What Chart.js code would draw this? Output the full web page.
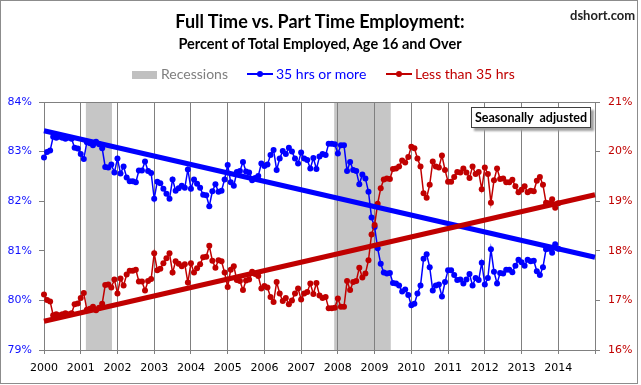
<!DOCTYPE html>
<html><head><meta charset="utf-8">
<script src="https://cdn.jsdelivr.net/npm/chart.js@4/dist/chart.umd.min.js"></script>
<style>
html,body{margin:0;padding:0;background:#fff;}
#wrap{position:relative;width:641px;height:385px;overflow:hidden;background:#fff;}
#frame{position:absolute;left:0;top:0;width:638px;height:384px;box-sizing:border-box;border:1px solid #8c8c8c;pointer-events:none;}
canvas{position:absolute;left:0;top:0;}
.t{position:absolute;white-space:nowrap;font-family:Lato,"Open Sans",sans-serif;line-height:1;}
#title{left:0;width:640px;text-align:center;top:12px;font-weight:700;font-size:18px;color:#000;}
#sub{left:0;width:640px;text-align:center;top:37px;font-weight:700;font-size:14.5px;color:#000;}
#site{left:570px;top:9px;font-weight:700;font-size:13px;color:#222;}
.lg{top:67px;font-size:14px;}
.sw{position:absolute;}
#sa{position:absolute;left:471px;top:107px;width:120px;height:21px;box-sizing:border-box;border:1px solid #404040;background:#fff;box-shadow:3px 3px 2px #a0a0a0;font-family:Lato,sans-serif;font-weight:700;font-size:12.5px;line-height:19px;text-align:center;color:#000;}
</style></head>
<body>
<div id="wrap">
<canvas id="c" width="641" height="385"></canvas>
<div class="t" id="title">Full Time vs. Part Time Employment:</div>
<div class="t" id="sub">Percent of Total Employed, Age 16 and Over</div>
<div class="t" id="site">dshort.com</div>
<div class="sw" style="left:132px;top:71px;width:25px;height:8px;background:#c0c0c0;"></div>
<div class="t lg" style="left:161px;color:#7f7f7f;">Recessions</div>
<div class="sw" style="left:247px;top:73px;width:26px;height:1.5px;background:#0000ff;"></div>
<div class="sw" style="left:257px;top:71px;width:6px;height:6px;border-radius:50%;background:#0000ff;"></div>
<div class="t lg" style="left:276px;color:#0000ff;">35 hrs or more</div>
<div class="sw" style="left:386px;top:73px;width:26px;height:1.5px;background:#c00000;"></div>
<div class="sw" style="left:396px;top:71px;width:6px;height:6px;border-radius:50%;background:#c00000;"></div>
<div class="t lg" style="left:415px;color:#c00000;">Less than 35 hrs</div>
<div id="sa">Seasonally&nbsp; adjusted</div>
<div id="frame"></div>
</div>
<script>
// Monthly data, Jan 2000 .. Jan 2014
const startYear = 2000;
const fullTime = [
 82.88, 82.99, 83.02, 83.30, 83.28, 83.30, 83.28, 83.26, 83.28, 83.26, 83.08, 83.06,
 82.95, 82.85, 83.19, 83.17, 83.13, 83.20, 83.15, 83.07, 82.69, 82.68, 82.74, 82.58,
 82.86, 82.56, 82.70, 82.48, 82.40, 82.40, 82.38, 82.62, 82.62, 82.80, 82.61, 82.57,
 82.05, 82.39, 82.36, 82.25, 82.15, 82.05, 82.44, 82.21, 82.26, 82.31, 82.27, 82.64,
 82.25, 82.44, 82.35, 82.27, 82.13, 82.12, 81.90, 82.20, 82.34, 82.19, 82.21, 82.44,
 82.73, 82.38, 82.31, 82.59, 82.61, 82.79, 82.60, 82.58, 82.42, 82.47, 82.51, 82.76,
 82.71, 82.74, 82.93, 83.03, 82.63, 82.86, 83.01, 82.95, 83.08, 83.00, 82.86, 82.76,
 82.98, 82.86, 82.83, 82.66, 82.87, 82.65, 82.90, 82.95, 82.93, 83.16, 83.16, 83.15,
 82.96, 83.13, 83.13, 82.61, 82.79, 82.63, 82.61, 82.34, 82.54, 82.46, 82.19, 81.67,
 81.48, 81.05, 80.74, 80.56, 80.54, 80.55, 80.35, 80.34, 80.30, 80.18, 80.22, 80.11,
 79.90, 79.93, 80.14, 80.30, 80.84, 80.93, 80.67, 80.20, 80.30, 80.32, 80.08, 80.37,
 80.61, 80.61, 80.51, 80.41, 80.42, 80.34, 80.42, 80.53, 80.30, 80.45, 80.41, 80.76,
 80.32, 80.45, 81.03, 80.58, 80.34, 80.55, 80.54, 80.62, 80.62, 80.57, 80.70, 80.82,
 80.77, 80.70, 80.82, 80.79, 80.80, 80.59, 80.51, 80.67, 81.03, 81.04, 80.96, 81.13,
 81.04
];
const partTime = [
 17.12, 17.01, 16.98, 16.70, 16.72, 16.70, 16.72, 16.74, 16.72, 16.74, 16.92, 16.94,
 17.05, 17.15, 16.81, 16.83, 16.87, 16.80, 16.85, 16.93, 17.31, 17.32, 17.26, 17.42,
 17.14, 17.44, 17.30, 17.52, 17.60, 17.60, 17.62, 17.38, 17.38, 17.20, 17.39, 17.43,
 17.95, 17.61, 17.64, 17.75, 17.85, 17.95, 17.56, 17.79, 17.74, 17.69, 17.73, 17.36,
 17.75, 17.56, 17.65, 17.73, 17.87, 17.88, 18.10, 17.80, 17.66, 17.81, 17.79, 17.56,
 17.27, 17.62, 17.69, 17.41, 17.39, 17.21, 17.40, 17.42, 17.58, 17.53, 17.49, 17.24,
 17.29, 17.26, 17.07, 16.97, 17.37, 17.14, 16.99, 17.05, 16.92, 17.00, 17.14, 17.24,
 17.02, 17.14, 17.17, 17.34, 17.13, 17.35, 17.10, 17.05, 17.07, 16.84, 16.84, 16.85,
 17.04, 16.87, 16.87, 17.39, 17.21, 17.37, 17.39, 17.66, 17.46, 17.54, 17.81, 18.33,
 18.52, 18.95, 19.26, 19.44, 19.46, 19.45, 19.65, 19.66, 19.70, 19.82, 19.78, 19.89,
 20.10, 20.07, 19.86, 19.70, 19.16, 19.07, 19.33, 19.80, 19.70, 19.68, 19.92, 19.63,
 19.39, 19.39, 19.49, 19.59, 19.58, 19.66, 19.58, 19.47, 19.70, 19.55, 19.59, 19.24,
 19.68, 19.55, 18.97, 19.42, 19.66, 19.45, 19.46, 19.38, 19.38, 19.43, 19.30, 19.18,
 19.23, 19.30, 19.18, 19.21, 19.20, 19.41, 19.49, 19.33, 18.97, 18.96, 19.04, 18.87,
 18.96
];
// Linear trend lines: values at 2000.0 and 2015.0
const trendYears = [2000, 2015];
const fullTimeTrend = [83.42, 80.87];
const partTimeTrend = [16.58, 19.13];
// Recessions (start, end in decimal years)
const recessionStart = [2001.14, 2007.90];
const recessionEnd   = [2001.85, 2009.44];
const yearLabels = ['2000','2001','2002','2003','2004','2005','2006','2007','2008','2009','2010','2011','2012','2013','2014'];
const leftTicks = ['79%','80%','81%','82%','83%','84%'];
const rightTicks = ['16%','17%','18%','19%','20%','21%'];

const months = fullTime.map((_, i) => startYear + i / 12);
const ftPoints = months.map((x, i) => ({x, y: fullTime[i]}));
const ptPoints = months.map((x, i) => ({x, y: partTime[i]}));
const ftTrendPts = trendYears.map((x, i) => ({x, y: fullTimeTrend[i]}));
const ptTrendPts = trendYears.map((x, i) => ({x, y: partTimeTrend[i]}));

const recessionPlugin = {
  id: 'recessions',
  beforeDraw(chart) {
    const {ctx, chartArea: a, scales: {x}} = chart;
    ctx.save();
    ctx.fillStyle = '#c6c6c6';
    for (let k = 0; k < recessionStart.length; k++) {
      const x0 = x.getPixelForValue(recessionStart[k]);
      const x1 = x.getPixelForValue(recessionEnd[k]);
      ctx.fillRect(x0, a.top, x1 - x0, a.bottom - a.top);
    }
    ctx.restore();
  }
};

const tickFont = {family: 'DejaVu Sans', size: 11};
new Chart(document.getElementById('c'), {
  type: 'line',
  data: { datasets: [
    {label: 'Less than 35 hrs trend', data: ptTrendPts, yAxisID: 'y2', borderColor: '#c00000', borderWidth: 5, pointRadius: 0, order: 0, clip: false},
    {label: '35 hrs or more trend', data: ftTrendPts, yAxisID: 'y', borderColor: '#0000ff', borderWidth: 5, pointRadius: 0, order: 1, clip: false},
    {label: 'Less than 35 hrs', data: ptPoints, yAxisID: 'y2', borderColor: '#c00000', backgroundColor: '#c00000', borderWidth: 1.5, pointRadius: 3, pointBorderWidth: 0, order: 2, clip: false, tension: 0},
    {label: '35 hrs or more', data: ftPoints, yAxisID: 'y', borderColor: '#0000ff', backgroundColor: '#0000ff', borderWidth: 1.5, pointRadius: 3, pointBorderWidth: 0, order: 3, clip: false, tension: 0}
  ]},
  options: {
    responsive: false, animation: false, devicePixelRatio: 1,
    layout: {padding: {top: 102, left: 0, right: 0, bottom: 0}},
    plugins: {legend: {display: false}, tooltip: {enabled: false}},
    scales: {
      x: {type: 'linear', min: 2000, max: 2015,
        afterFit: s => { s.height = 35; },
        ticks: {stepSize: 1, autoSkip: false, maxRotation: 0, color: '#000', font: tickFont, padding: 8,
          callback: v => yearLabels[Math.round(v) - startYear] ?? ''},
        grid: {color: '#808080', lineWidth: 1, tickLength: 4, tickColor: '#808080'},
        border: {display: true, color: '#808080'}},
      y: {position: 'left', min: 79, max: 84,
        afterFit: s => { s.width = 44; },
        ticks: {stepSize: 1, color: '#1010ff', font: tickFont, padding: 7,
          callback: v => leftTicks[Math.round(v) - 79]},
        grid: {color: c => (c.tick && c.tick.value === 84) ? '#808080' : 'rgba(0,0,0,0)', tickColor: '#808080', tickLength: 5},
        border: {display: true, color: '#808080'}},
      y2: {position: 'right', min: 16, max: 21,
        afterFit: s => { s.width = 46; },
        ticks: {stepSize: 1, color: '#c00000', font: tickFont, padding: 8,
          callback: v => rightTicks[Math.round(v) - 16]},
        grid: {drawOnChartArea: false, tickColor: '#808080', tickLength: 5},
        border: {display: true, color: '#808080'}}
    }
  },
  plugins: [recessionPlugin]
});
</script>
</body></html>
